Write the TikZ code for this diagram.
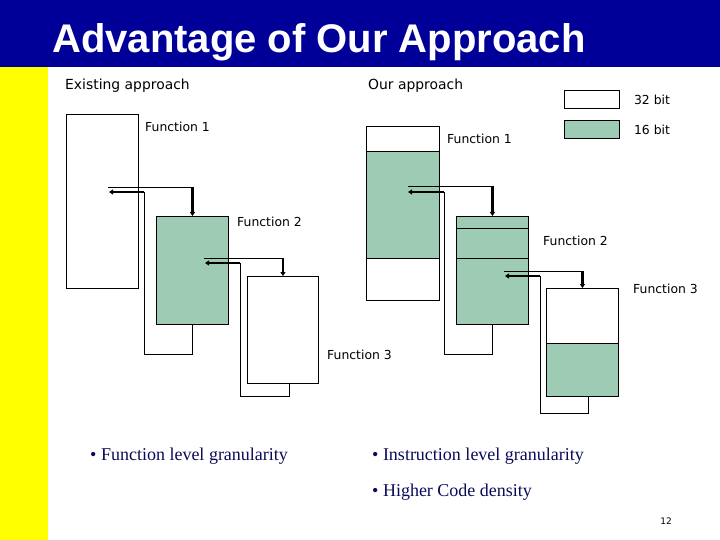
\documentclass[tikz,border=0pt]{standalone}
\usepackage{fontspec}
\setmainfont{Liberation Serif}
\newfontfamily\labelfont{DejaVu Sans}
\newfontfamily\titlefont{Liberation Sans}
\usetikzlibrary{arrows.meta, positioning, calc}
\definecolor{slideblue}{RGB}{0,0,153}
\definecolor{slideyellow}{RGB}{255,255,0}
\definecolor{codegreen}{RGB}{158,203,180}
\definecolor{bulletnavy}{RGB}{10,10,90}
\tikzset{
  wbox/.style={
    rectangle, draw=black, fill=white,
    line width=0.9pt, inner sep=0pt, anchor=north west
  },
  gbox/.style={wbox, fill=codegreen},
  flabel/.style={
    font=\labelfont\fontsize{12.4}{14}\selectfont,
    anchor=west, inner sep=0pt
  },
  head/.style={
    font=\labelfont\fontsize{13.9}{16}\selectfont,
    anchor=base west, inner sep=0pt
  },
  bullet/.style={
    font=\fontsize{18}{20}\selectfont, text=bulletnavy,
    anchor=base west, inner sep=0pt
  },
  callln/.style={line width=0.9pt},
  carr/.style={-{Triangle[length=4pt,width=5pt]}, line width=2.6pt},
}

\begin{document}
\begin{tikzpicture}[x=1pt, y=-1pt]
        \useasboundingbox (0,0) rectangle (720,540);
        \fill[slideblue] (0,0) rectangle (720,67);
        \fill[slideyellow] (0,67) rectangle (48,540);
        \node[font=\titlefont\bfseries\fontsize{40}{44}\selectfont, text=white,
              anchor=base west, inner sep=0pt] (title) at (52,53) {Advantage of Our Approach};
        \node[head] (exist) at (65,90) {Existing approach};
        \node[head] (ours)  at (368,90) {Our approach};

        % existing approach
        \node[wbox, minimum width=72pt, minimum height=174pt] (ef1) at (66,114) {};
        \node[gbox, minimum width=72pt, minimum height=108pt] (ef2) at (156,216) {};
        \node[wbox, minimum width=71pt, minimum height=107pt] (ef3) at (247,276) {};
        \node[flabel] (ef1l) at (145,127) {Function 1};
        \node[flabel] (ef2l) at (237,222) {Function 2};
        \node[flabel] (ef3l) at (327,355) {Function 3};
        \coordinate (ecall1) at (108,187); \coordinate (eret1) at (109,192);
        \coordinate (eloop1) at (144,354);
        \coordinate (ecall2) at (204,258); \coordinate (eret2) at (205,263);
        \coordinate (eloop2) at (240,396);
        \draw[callln] (ecall1) -- (ecall1 -| ef2.north);
        \draw[carr] (ecall1 -| ef2.north) -- (ef2.north);
        \draw[callln] (ef2.south) |- (eloop1) -- (eloop1 |- eret1);
        \draw[carr] (eloop1 |- eret1) -- (eret1);
        \draw[callln] (ecall2) -- (ecall2 -| ef3.north);
        \draw[carr] (ecall2 -| ef3.north) -- (ef3.north);
        \draw[callln] ([xshift=6pt]ef3.south) |- (eloop2) -- (eloop2 |- eret2);
        \draw[carr] (eloop2 |- eret2) -- (eret2);

        % our approach
        \node[wbox, minimum width=73pt, minimum height=174pt] (of1) at (366,126) {};
        \draw[fill=codegreen, line width=0.9pt] ([yshift=-25pt]of1.north west) rectangle ([yshift=42pt]of1.south east);
        \node[gbox, minimum width=72pt, minimum height=108pt] (of2) at (456,216) {};
        \draw[line width=0.9pt] ([yshift=-12pt]of2.north west) -- ([yshift=-12pt]of2.north east);
        \draw[line width=0.9pt] ([yshift=-42pt]of2.north west) -- ([yshift=-42pt]of2.north east);
        \node[wbox, minimum width=72pt, minimum height=108pt] (of3) at (546,288) {};
        \draw[fill=codegreen, line width=0.9pt] ([yshift=53pt]of3.south west) rectangle (of3.south east);
        \node[flabel] (of1l) at (447,139) {Function 1};
        \node[flabel] (of2l) at (543,241) {Function 2};
        \node[flabel] (of3l) at (633,289) {Function 3};
        \coordinate (ocall1) at (408,186); \coordinate (oret1) at (408,192);
        \coordinate (oloop1) at (444,354);
        \coordinate (ocall2) at (504,271); \coordinate (oret2) at (505,276);
        \coordinate (oloop2) at (540,413);
        \draw[callln] (ocall1) -- (ocall1 -| of2.north);
        \draw[carr] (ocall1 -| of2.north) -- (of2.north);
        \draw[callln] (of2.south) |- (oloop1) -- (oloop1 |- oret1);
        \draw[carr] (oloop1 |- oret1) -- (oret1);
        \draw[callln] (ocall2) -- (ocall2 -| of3.north);
        \draw[carr] (ocall2 -| of3.north) -- (of3.north);
        \draw[callln] ([xshift=6pt]of3.south) |- (oloop2) -- (oloop2 |- oret2);
        \draw[carr] (oloop2 |- oret2) -- (oret2);

        % legend
        \node[wbox, minimum width=55pt, minimum height=18pt] (w32) at (564,90) {};
        \node[gbox, minimum width=55pt, minimum height=18pt] (g16) at (564,120) {};
        \node[flabel, right=14pt of w32] (w32l) {32 bit};
        \node[flabel, right=14pt of g16] (g16l) {16 bit};

        \node[bullet] (b1) at (90,460)  {• Function level granularity};
        \node[bullet] (b2) at (372,460) {• Instruction level granularity};
        \node[bullet] (b3) at (372,496) {• Higher Code density};
        \node[font=\labelfont\fontsize{9}{10}\selectfont, inner sep=0pt] (pgno) at (666,521) {12};
      \end{tikzpicture}
\end{document}
